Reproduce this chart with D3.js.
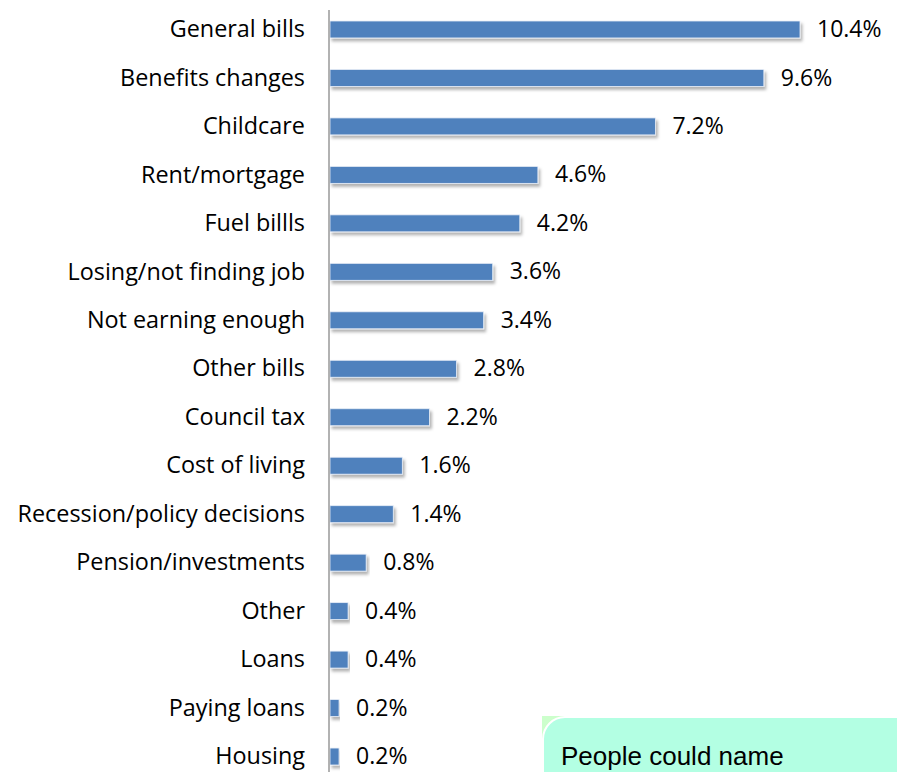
<!DOCTYPE html>
<html><head><meta charset="utf-8">
<script src="https://cdn.jsdelivr.net/npm/d3@7"></script>
<style>body{margin:0;background:#fff}svg{display:block}</style>
</head><body>
<script>
const categories = ["General bills","Benefits changes","Childcare","Rent/mortgage","Fuel billls","Losing/not finding job","Not earning enough","Other bills","Council tax","Cost of living","Recession/policy decisions","Pension/investments","Other","Loans","Paying loans","Housing"];
const values = [10.4,9.6,7.2,4.6,4.2,3.6,3.4,2.8,2.2,1.6,1.4,0.8,0.4,0.4,0.2,0.2];
const labels = ["10.4%","9.6%","7.2%","4.6%","4.2%","3.6%","3.4%","2.8%","2.2%","1.6%","1.4%","0.8%","0.4%","0.4%","0.2%","0.2%"];
const note = "People could name";

const W=897,H=772;
const svg=d3.select("body").append("svg").attr("width",W).attr("height",H);
const defs=svg.append("defs");
const f=defs.append("filter").attr("id","sh").attr("x","-5%").attr("y","-30%").attr("width","115%").attr("height","190%");
f.append("feDropShadow").attr("dx",2).attr("dy",3).attr("stdDeviation",1.5).attr("flood-color","#000").attr("flood-opacity",0.3);

const x=d3.scaleLinear().domain([0,10.4]).range([330,800]);
const y=d3.scaleBand().domain(categories).range([5,781]).paddingInner(0.65).paddingOuter(0.33);

const font="'Open Sans', sans-serif";

svg.append("g").selectAll("rect").data(categories).join("rect")
  .attr("x",x(0)).attr("y",d=>y(d)).attr("height",y.bandwidth())
  .attr("width",(d,i)=>x(values[i])-x(0))
  .attr("fill","#4f81bd").attr("stroke","#e8eef7").attr("stroke-width",0.8)
  .attr("filter","url(#sh)");

svg.append("g").selectAll("text").data(categories).join("text")
  .attr("x",(d,i)=>x(values[i])+17).attr("y",d=>y(d)+y.bandwidth()/2)
  .attr("dy","0.33em").attr("font-family",font).attr("font-size",23).attr("fill","#000")
  .text((d,i)=>labels[i]);

const ax=d3.axisLeft(y).tickSize(0).tickPadding(24);
const g=svg.append("g").attr("transform",`translate(${x(0)-1},0)`).call(ax);
g.select(".domain").attr("stroke","#999").attr("stroke-width",1.5).attr("d",`M0,10V${H}`);
g.selectAll("text").attr("font-family",font).attr("font-size",23.4).attr("fill","#000").attr("dy","0.33em");

// note box
svg.append("rect").attr("x",542).attr("y",716).attr("width",30).attr("height",30).attr("fill","#ccffcc");
svg.append("rect").attr("x",543).attr("y",717).attr("width",380).attr("height",120).attr("rx",22)
  .attr("fill","#b3ffe3").attr("stroke","#fff").attr("stroke-width",2);
svg.append("text").attr("x",561).attr("y",765).attr("font-family","Arial, 'Liberation Sans', sans-serif")
  .attr("font-size",26).attr("fill","#000").text(note);
</script>
</body></html>
